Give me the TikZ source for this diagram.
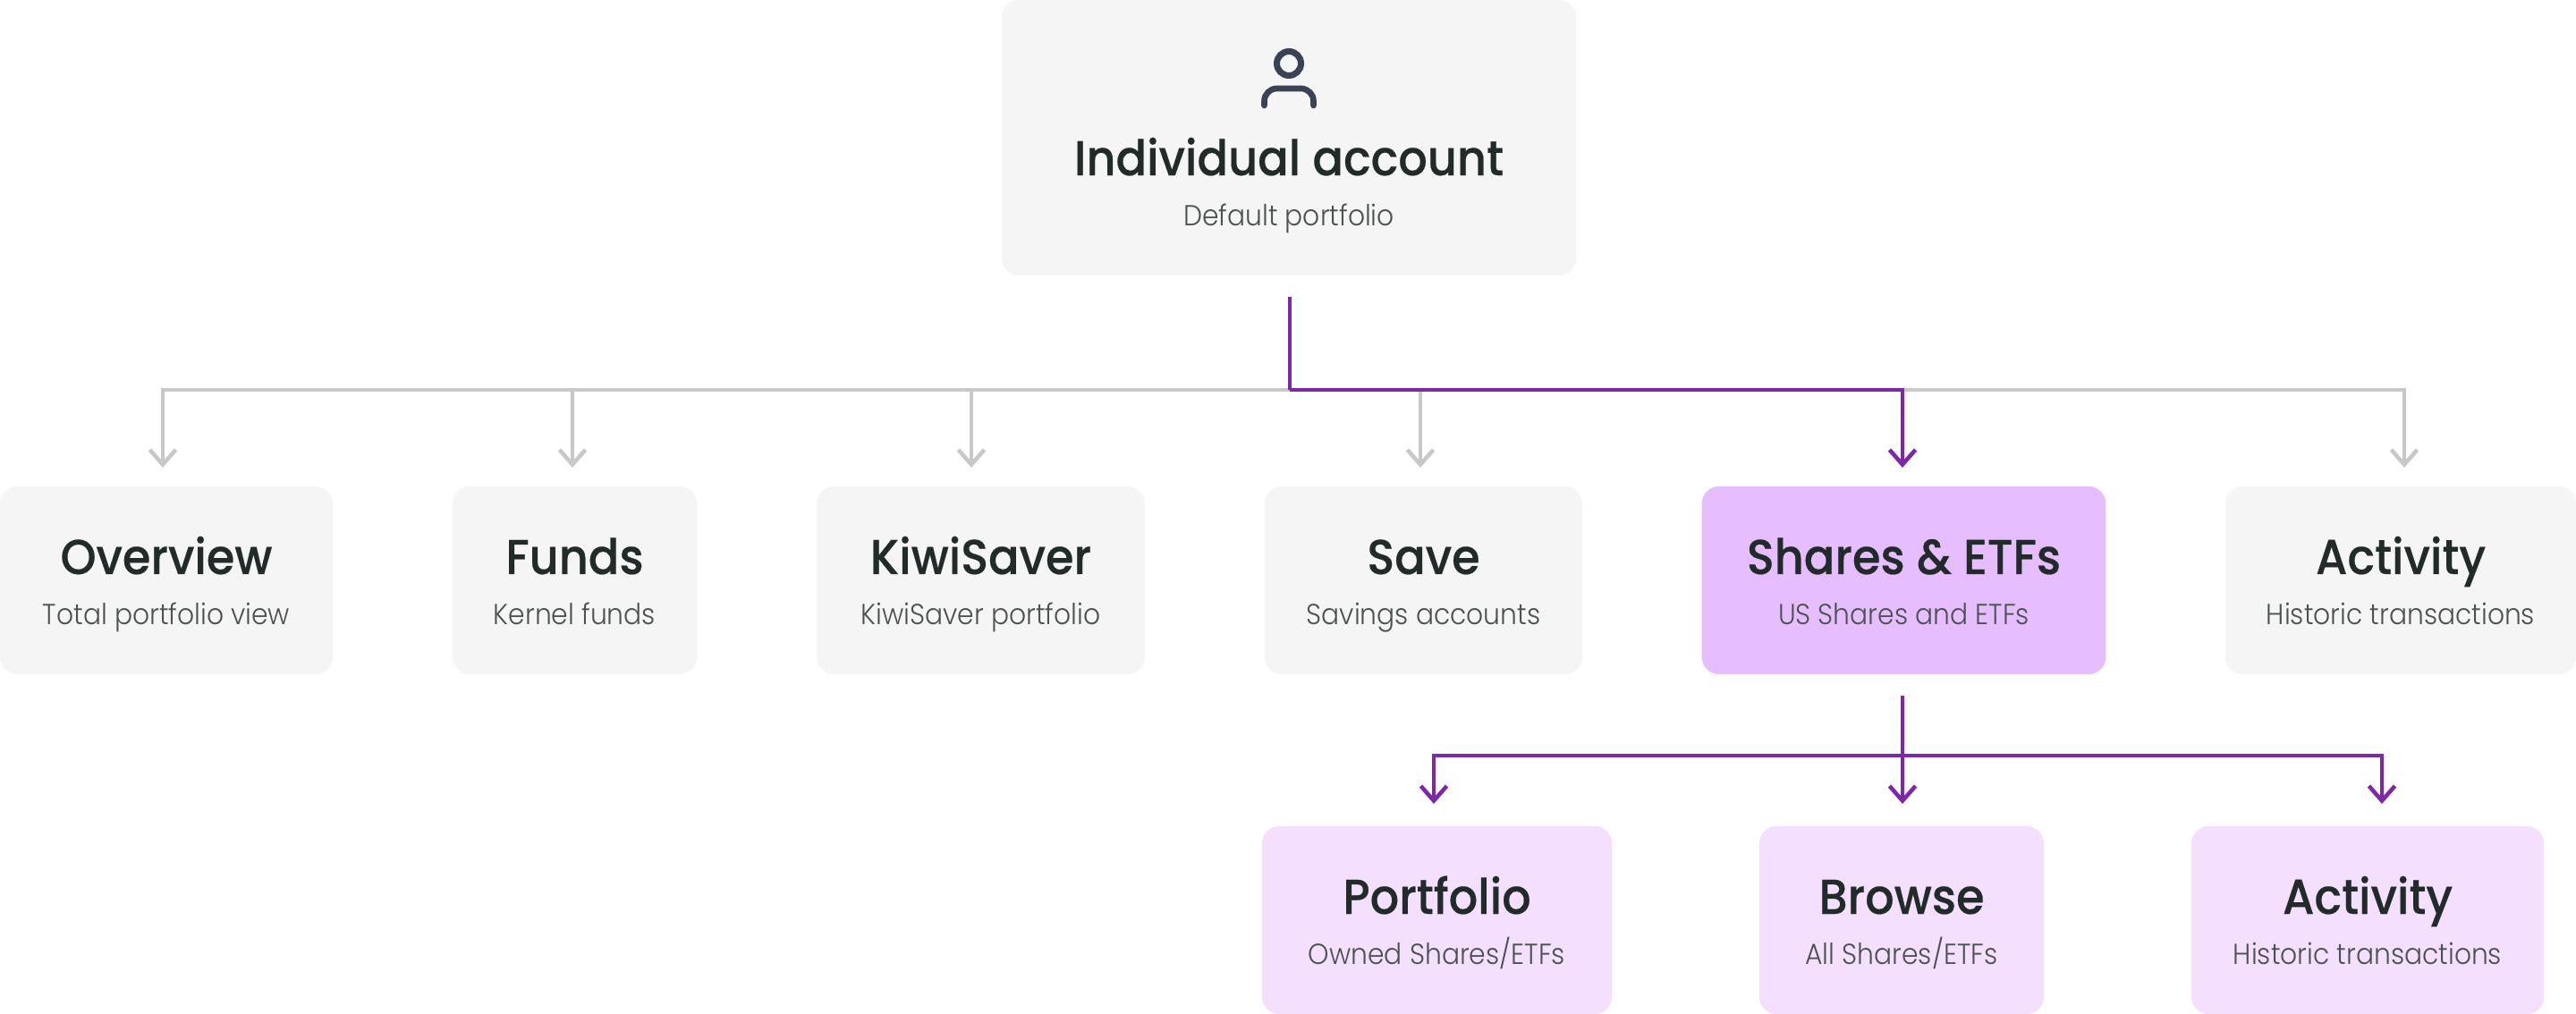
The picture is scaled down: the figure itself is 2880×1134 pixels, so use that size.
\documentclass[tikz,border=0pt]{standalone}
\usepackage{fontspec}
\usetikzlibrary{arrows.meta}
\newfontfamily\cardhead[FakeStretch=0.93,FakeBold=0.35]{Poppins Medium}
\newfontfamily\cardsub[FakeStretch=0.92]{Poppins Light}
\definecolor{cardgrey}{HTML}{F5F5F5}
\definecolor{cardmauve}{HTML}{E6BDFF}
\definecolor{cardlilac}{HTML}{F4DFFF}
\definecolor{inkdark}{HTML}{212B2A}
\definecolor{inksoft}{HTML}{4A5250}
\definecolor{iconslate}{HTML}{3A4356}
\definecolor{linegrey}{HTML}{C8C8C8}
\definecolor{linepurple}{HTML}{7F27A8}
\newcommand{\cardlines}[4]{\renewcommand{\arraystretch}{0}\begin{tabular}{@{}c@{}}\rule{0pt}{#3}\smash{\cardhead\fontsize{15.6}{15.6}\selectfont\color{inkdark}#1}\\\rule{0pt}{15.93pt}{\cardsub\fontsize{9.2}{9.2}\selectfont\color{inksoft}#2}\rule[-#4]{0pt}{#4}\end{tabular}}
\newcommand{\cardtext}[2]{\cardlines{#1}{#2}{27.88pt}{15.93pt}}
\tikzset{>={Straight Barb[length=4.7pt,width=8.25pt]}}
\tikzset{
  card/.style={rounded corners=5.5pt,inner sep=0pt,minimum height=2.1cm,fill=cardgrey},
  greyline/.style={draw=linegrey,line width=1.3pt},
  purpleline/.style={draw=linepurple,line width=1.3pt}
}
\begin{document}
\begin{tikzpicture}[x=0.01cm,y=-0.01cm]
\useasboundingbox (0,0) rectangle (2880,1134);
% top card, its upper edge sits on the page edge
\node[card,minimum width=6.42cm,minimum height=3.08cm] (account) at (1441,154) {\cardlines{Individual account}{Default portfolio}{55.76pt}{15.93pt}};
\draw[iconslate,line width=2pt] (1441,71) circle [radius=13.5];
\draw[iconslate,line width=1.9pt,line cap=round,rounded corners=4pt] (1413.5,118) -- (1413.5,99) -- (1468.5,99) -- (1468.5,118);
% first row
\node[card,minimum width=3.72cm] (overview) at (186,649) {\cardtext{Overview}{Total portfolio view}};
\node[card,minimum width=2.73cm] (funds) at (642.5,649) {\cardtext{Funds}{Kernel funds}};
\node[card,minimum width=3.67cm] (kiwisaver) at (1096.5,649) {\cardtext{KiwiSaver}{KiwiSaver portfolio}};
\node[card,minimum width=3.55cm] (save) at (1591.5,649) {\cardtext{Save}{Savings accounts}};
\node[card,minimum width=4.515cm,fill=cardmauve] (shares) at (2128.5,649) {\cardtext{Shares \& ETFs}{US Shares and ETFs}};
\node[card,minimum width=3.92cm] (activity) at (2684,649) {\cardtext{Activity}{Historic transactions}};
% second row
\node[card,minimum width=3.91cm,fill=cardlilac] (portfolio) at (1606.5,1029) {\cardtext{Portfolio}{Owned Shares/ETFs}};
\node[card,minimum width=3.18cm,fill=cardlilac] (browse) at (2126,1029) {\cardtext{Browse}{All Shares/ETFs}};
\node[card,minimum width=3.94cm,fill=cardlilac] (holdings) at (2647,1029) {\cardtext{Activity}{Historic transactions}};
% connector ends
\coordinate (trunk) at (1442,332);
\coordinate (bus) at (1442,436);
\coordinate (overviewin) at (182,523);
\coordinate (fundsin) at (640,523);
\coordinate (kiwisaverin) at (1086,523);
\coordinate (savein) at (1588,523);
\coordinate (sharesin) at (2127,523);
\coordinate (activityin) at (2688,523);
\coordinate (sharesout) at (2127,778);
\coordinate (subbus) at (2127,845);
\coordinate (portfolioin) at (1603,899);
\coordinate (browsein) at (2127,899);
\coordinate (holdingsin) at (2663,899);
% grey first, the purple route goes over it
\foreach \n in {overviewin,fundsin,kiwisaverin,savein,activityin} {
\draw[greyline,->] (bus) -| (\n);
};
\draw[purpleline] (trunk) -- (bus);
\draw[purpleline,->] (bus) -| (sharesin);
\draw[purpleline,->] (sharesout) -- (browsein);
\draw[purpleline,->] (subbus) -| (portfolioin);
\draw[purpleline,->] (subbus) -| (holdingsin);
\end{tikzpicture}
\end{document}
